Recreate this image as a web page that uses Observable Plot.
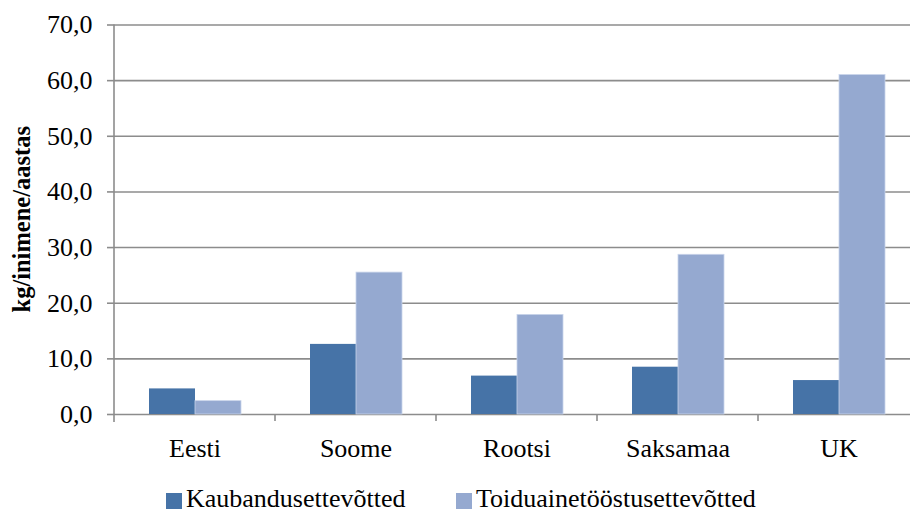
<!DOCTYPE html>
<html>
<head>
<meta charset="utf-8">
<script src="https://cdn.jsdelivr.net/npm/d3@7"></script>
<script src="https://cdn.jsdelivr.net/npm/@observablehq/plot@0.6"></script>
<style>
  html, body { margin: 0; padding: 0; background: #fff; overflow: hidden; }
  #wrap { width: 910px; height: 512px; position: relative; font-family: "Liberation Serif", "Tinos", "Nimbus Roman", "Nimbus Roman No9 L", "FreeSerif", "Times New Roman", "Times", "DejaVu Serif", serif; }
  #legend { position: relative; width: 910px; height: 42px; font-size: 26px; color: #000; }
  .sw { position: absolute; width: 16px; height: 16px; top: 23px; }
  .lt { position: absolute; top: 16px; line-height: 26px; white-space: nowrap; }
</style>
</head>
<body>
<div id="wrap"><div id="chart"></div><div id="legend"></div></div>
<script>
const categories = ["Eesti", "Soome", "Rootsi", "Saksamaa", "UK"];
const series = ["Kaubandusettevõtted", "Toiduainetööstusettevõtted"];
const kaubandus = [4.6, 12.6, 6.9, 8.5, 6.1];
const toiduaine = [2.4, 25.5, 17.9, 28.7, 61.0];
const yTicks = [0, 10, 20, 30, 40, 50, 60, 70];
const yTitle = "kg/inimene/aastas";
const colors = ["#4673A7", "#95A9D0"];

const FONT = '"Liberation Serif", "Tinos", "Nimbus Roman", "Nimbus Roman No9 L", "FreeSerif", "Times New Roman", "Times", "DejaVu Serif", serif';

const data = categories.flatMap((c, i) => [
  {cat: c, s: series[0], v: kaubandus[i]},
  {cat: c, s: series[1], v: toiduaine[i]}
]);

const gridColor = "#8c8c8c";

const plot = Plot.plot({
  width: 910,
  height: 470,
  marginLeft: 114,
  marginRight: 0,
  marginTop: 24.5,
  marginBottom: 56,
  style: {fontFamily: FONT, fontSize: "26px", color: "#000", background: "#fff", overflow: "visible"},
  fx: {domain: categories, range: [114, 919], padding: 0, label: null},
  x: {domain: series, paddingInner: 0, paddingOuter: 0.75, axis: null},
  y: {domain: [0, 70], label: null},
  color: {domain: series, range: colors},
  marks: [
    Plot.ruleY(yTicks, {stroke: gridColor, strokeWidth: 1.6}),
    Plot.barY(data, {fx: "cat", x: "s", y: "v", fill: "s", stroke: d => d.s === series[1] ? "#c9d4ea" : "none", strokeWidth: 0.8}),
    Plot.axisY({ticks: yTicks, tickSize: 7, tickPadding: 15, stroke: gridColor, strokeWidth: 1.6, fill: "#000", fontSize: 26,
      tickFormat: d => d.toFixed(1).replace(".", ","), label: null}),
    Plot.axisFx({anchor: "bottom", tickSize: 0, tickPadding: 24, fontSize: 26, fill: "#000", label: null})
  ]
});

document.getElementById("chart").appendChild(plot);

// decorations derived from the plot's scales
const svg = d3.select(plot);
const fx = plot.scale("fx");
const y = plot.scale("y");
const y0 = y.apply(0), yTop = y.apply(70);
const xLeft = fx.apply(categories[0]);
svg.append("line").attr("x1", xLeft).attr("x2", xLeft).attr("y1", yTop).attr("y2", y0 + 8)
  .attr("stroke", gridColor).attr("stroke-width", 1.6);
categories.forEach((c, i) => {
  if (i === 0) return;
  const xb = fx.apply(c);
  svg.append("line").attr("x1", xb).attr("x2", xb).attr("y1", y0).attr("y2", y0 + 7)
    .attr("stroke", gridColor).attr("stroke-width", 1.6);
});
svg.append("text")
  .attr("transform", `translate(29.5,${(y0 + yTop) / 2}) rotate(-90)`)
  .attr("text-anchor", "middle")
  .style("font-family", FONT)
  .attr("font-weight", "bold")
  .attr("font-size", 24.5)
  .attr("fill", "#000")
  .text(yTitle);

const legend = d3.select("#legend");
const legendPos = [[166, 186], [456, 476]];
series.forEach((s, i) => {
  legend.append("div").attr("class", "sw").style("left", legendPos[i][0] + "px").style("background", colors[i]);
  legend.append("div").attr("class", "lt").style("left", legendPos[i][1] + "px").text(s);
});
</script>
</body>
</html>
